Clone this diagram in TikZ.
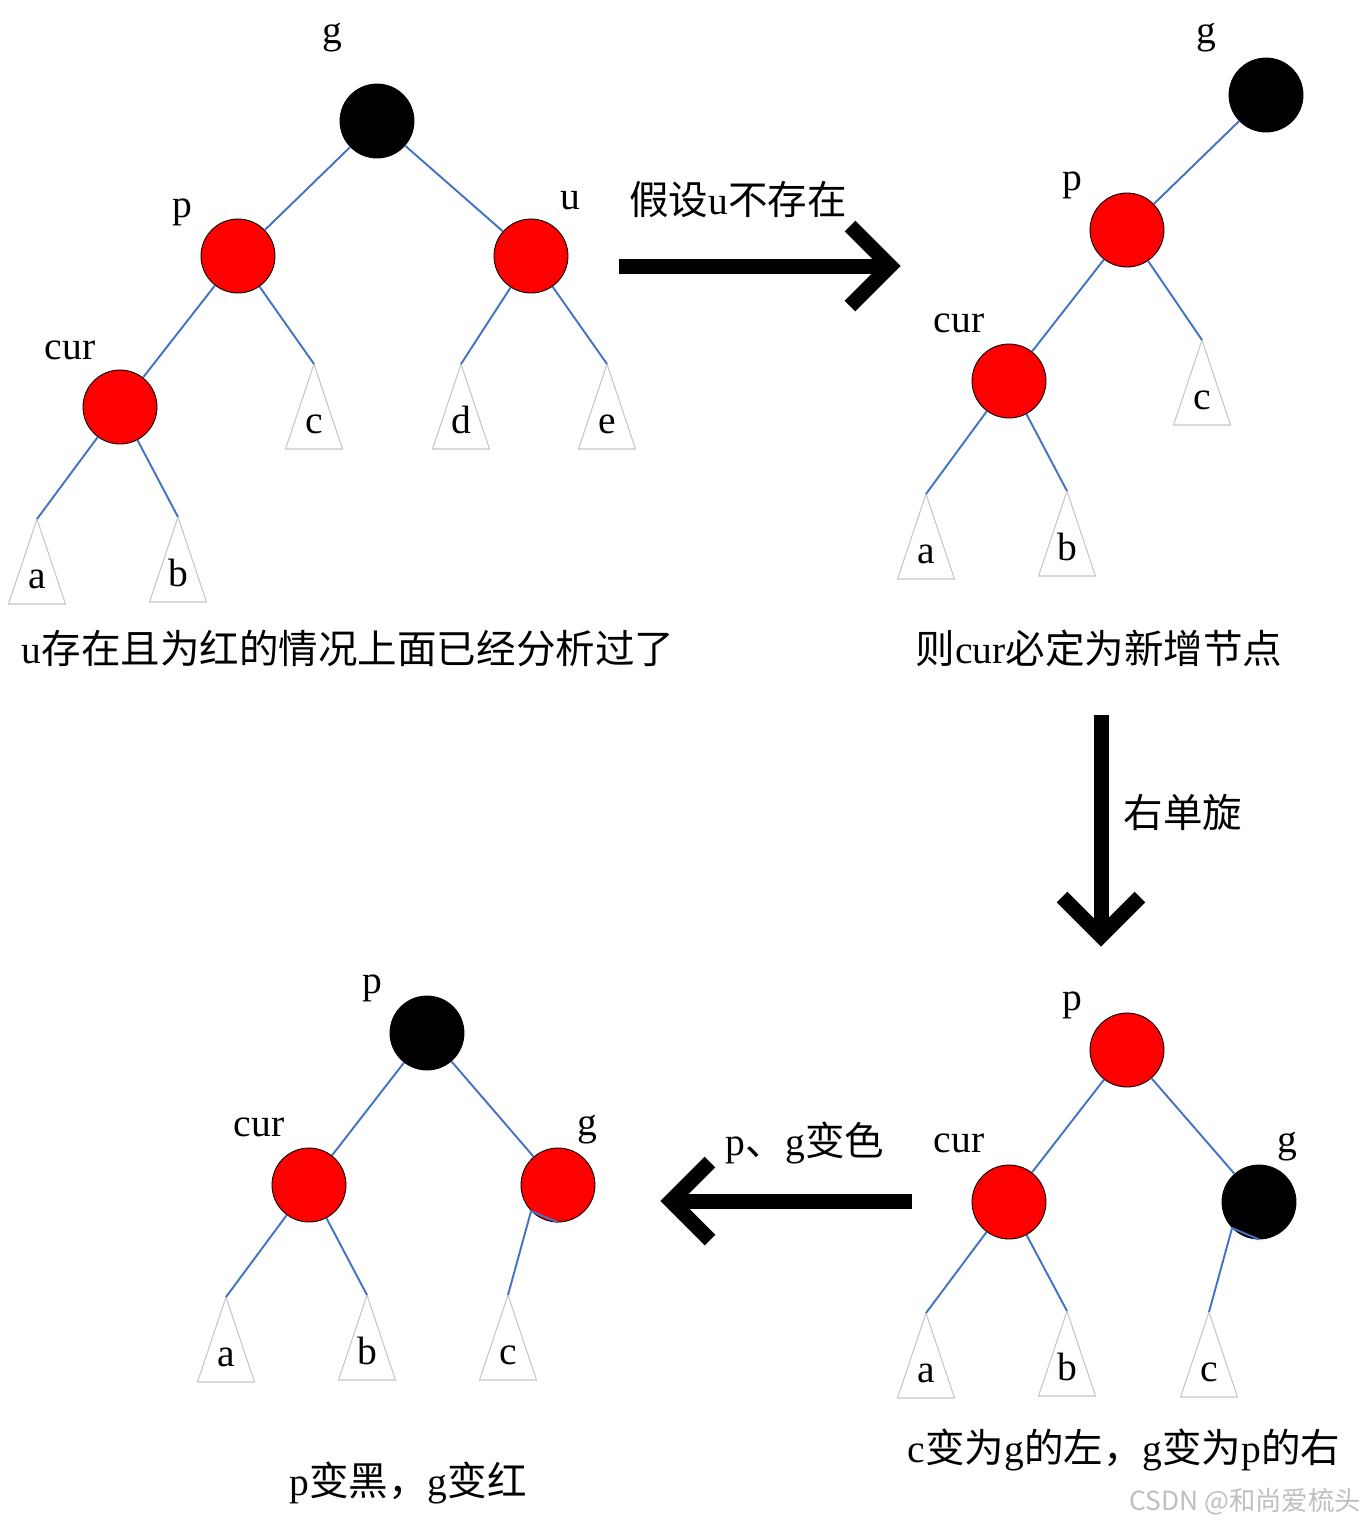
\documentclass[tikz,border=0pt]{standalone}
\usepackage{fontspec}
\setmainfont{Liberation Serif}
\newfontfamily\cjk{Noto Sans CJK SC}
\definecolor{edgeblue}{HTML}{4472C4}

% subtree triangle: name, apex x, apex y, letter
\newcommand\subtree[4]{%
    \coordinate (#1) at (#2,#3);
    \draw[tri] (#1) -- ++(-28.5,85) -- ++(57,0) -- cycle;
    \node[anchor=base] (#1lab) at (#2,#3+69) {#4};
}

\begin{document}
\begin{tikzpicture}[x=0.02cm, y={(0cm,-0.02cm)},
    font=\fontsize{22.5}{27}\selectfont,
    rednode/.style={circle, draw=black, line width=0.5pt, fill=red, minimum size=1.48cm, inner sep=0pt},
    blacknode/.style={rednode, fill=black},
    link/.style={draw=edgeblue, line width=1.1pt},
    tri/.style={draw=gray!45, line width=0.6pt},
    bigarrow/.style={line width=0.3cm, line join=miter}]
    \path[use as bounding box] (0,0) rectangle (1365,1526);

    % tree before
    \node[blacknode] (g1) at (377,121) {}; \node[rednode] (p1) at (238,256) {};
    \node[rednode] (u1) at (531,256) {}; \node[rednode] (cur1) at (120,407) {};
    \subtree{c1}{314}{364}{c} \subtree{d1}{461}{364}{d} \subtree{e1}{607}{364}{e}
    \subtree{a1}{37}{519}{a} \subtree{b1}{178}{517}{b}
    \draw[link] (g1) -- (p1) (g1) -- (u1) (p1) -- (cur1) (p1) -- (c1)
        (u1) -- (d1) (u1) -- (e1) (cur1) -- (a1) (cur1) -- (b1);
    \foreach \t/\x/\y in {g/332/38, p/182/212, u/570/201, cur/70/350} {
        \node (\t1lab) at (\x,\y) {\t};
    }
    \node (note1) at (348,648) {u{\cjk 存在且为红的情况上面已经分析过了}};

    % tree without u
    \node[blacknode] (g2) at (1266,95) {}; \node[rednode] (p2) at (1127,230) {};
    \node[rednode] (cur2) at (1009,381) {};
    \subtree{c2}{1202}{340}{c} \subtree{a2}{926}{494}{a} \subtree{b2}{1067}{491}{b}
    \draw[link] (g2) -- (p2) (p2) -- (cur2) (p2) -- (c2) (cur2) -- (a2) (cur2) -- (b2);
    \foreach \t/\x/\y in {g/1206/38, p/1072/185, cur/959/323} {
        \node (\t2lab) at (\x,\y) {\t};
    }
    \node (note2) at (1099,648) {{\cjk 则}cur{\cjk 必定为新增节点}};

    % tree after rotation
    \node[rednode] (p3) at (1127,1050) {}; \node[rednode] (cur3) at (1009,1202) {};
    \node[blacknode] (g3) at (1259,1202) {};
    \subtree{a3}{926}{1313}{a} \subtree{b3}{1067}{1311}{b} \subtree{c3}{1209}{1312}{c}
    \draw[link] (p3) -- (cur3) (p3) -- (g3) (cur3) -- (a3) (cur3) -- (b3);
    \draw[link] (g3.south) -- (g3.224) -- (c3);
    \foreach \t/\x/\y in {p/1072/1005, cur/959/1143, g/1287/1147} {
        \node (\t3lab) at (\x,\y) {\t};
    }
    \node (note3) at (1124,1450) {c{\cjk 变为}g{\cjk 的左，}g{\cjk 变为}p{\cjk 的右}};

    % tree after recolor
    \node[blacknode] (p4) at (427,1033) {}; \node[rednode] (cur4) at (309,1185) {};
    \node[rednode] (g4) at (558,1185) {};
    \subtree{a4}{226}{1297}{a} \subtree{b4}{367}{1295}{b} \subtree{c4}{508}{1295}{c}
    \draw[link] (p4) -- (cur4) (p4) -- (g4) (cur4) -- (a4) (cur4) -- (b4);
    \draw[link] (g4.south) -- (g4.224) -- (c4);
    \foreach \t/\x/\y in {p/372/988, cur/259/1127, g/587/1130} {
        \node (\t4lab) at (\x,\y) {\t};
    }
    \node (note4) at (408,1483) {p{\cjk 变黑，}g{\cjk 变红}};

    % step arrows
    \draw[bigarrow] (619,266) -- (886,266);
    \draw[bigarrow] (850,226) -- (890,266) -- (850,306);
    \node (step1) at (738,200) {{\cjk 假设}u{\cjk 不存在}};
    \draw[bigarrow] (1101,715) -- (1101,932);
    \draw[bigarrow] (1062,897) -- (1101,936) -- (1140,897);
    \node (step2) at (1183,812) {\cjk 右单旋};
    \draw[bigarrow] (912,1201) -- (675,1201);
    \draw[bigarrow] (710,1162) -- (671,1201) -- (710,1240);
    \node (step3) at (805,1143) {p{\cjk 、}g{\cjk 变色}};

    \node[text=gray!50, font=\cjk\fontsize{15}{17}\selectfont] (mark) at (1245,1502) {CSDN @和尚爱梳头};
\end{tikzpicture}
\end{document}
